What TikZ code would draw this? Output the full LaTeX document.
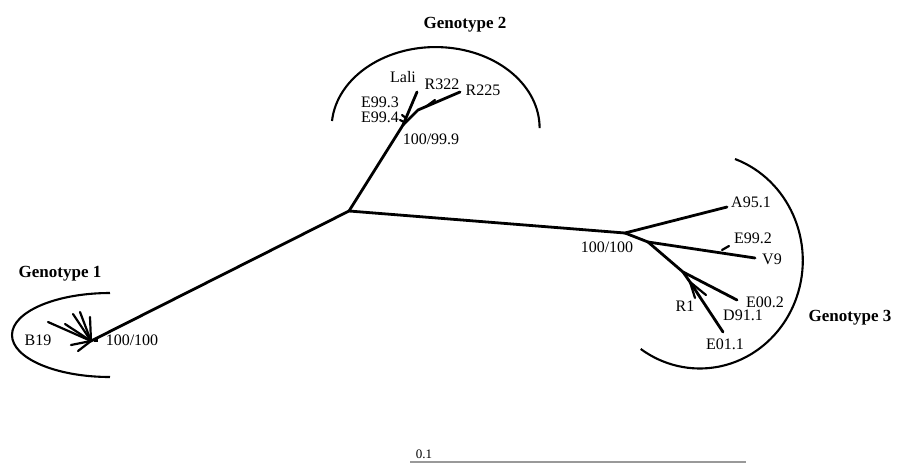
\documentclass[tikz,border=0pt]{standalone}
\usepackage{fontspec}
\setmainfont{Liberation Serif}
\usetikzlibrary{positioning}
\tikzset{
  branch/.style={line width=2.8pt, line cap=round},
  twig/.style={line width=2.2pt, line cap=round},
  clade/.style={line width=2.1pt},
  lab/.style={font=\fontsize{16}{18}\selectfont, inner sep=0pt},
  geno/.style={font=\fontsize{17}{19}\selectfont\bfseries, inner sep=0pt}
}

\begin{document}
\begin{tikzpicture}[x=1pt,y=-1pt]
	\useasboundingbox (0,0) rectangle (899,464);
	\coordinate (c) at (349,211);
	\coordinate (j1) at (91,341);
	\coordinate (j2) at (403,125);
	\coordinate (j3) at (625,233);
	\draw[branch] (c) -- (j1);
	\draw[branch] (c) -- (j2);
	\draw[branch] (c) -- (j3);
	% genotype 1
	\foreach \n/\x/\y in {a/48/322,b/65/324,c/73/314,d/80/312,e/90/317,f/71/345,g/78/351}{
		\coordinate (g1\n) at (\x,\y);
		\draw[twig] (j1) -- (g1\n);
	}
	\node[fill, minimum size=4pt, inner sep=0pt] (sq) at (96,340) {};
	\node[lab] (b19) at (38,340) {B19};
	\node[lab] (bs1) at (132,340) {100/100};
	\node[geno] (gt1) at (60,274) {Genotype 1};
	\coordinate (a1) at (110,293);
	\draw[clade] (a1) arc[start angle=90, end angle=270, x radius=98pt, y radius=42pt];
	% genotype 2
	\coordinate (lali) at (417,92);
	\coordinate (k2) at (418,110);
	\coordinate (r225) at (460,92);
	\coordinate (r322j) at (426,106.6);
	\coordinate (r322) at (435,100);
	\coordinate (e93a) at (406,118);
	\coordinate (e93b) at (402,115);
	\coordinate (e94a) at (404,122);
	\coordinate (e94b) at (400,120);
	\draw[branch] (j2) -- (lali);
	\draw[branch] (j2) -- (k2) -- (r225);
	\draw[twig] (r322j) -- (r322);
	\draw[twig] (e93a) -- (e93b);
	\draw[twig] (e94a) -- (e94b);
	\node[lab] (nlali) at (403,77) {Lali};
	\node[lab] (nr322) at (442,84) {R322};
	\node[lab] (nr225) at (483,90) {R225};
	\node[lab] (ne93) at (380,102) {E99.3};
	\node[lab] (ne94) at (380,117) {E99.4};
	\node[lab] (bs2) at (431,139) {100/99.9};
	\node[geno] (gt2) at (465,25) {Genotype 2};
	\coordinate (a2) at (332,121);
	\draw[clade] (a2) arc[start angle=175, end angle=0, x radius=104pt, y radius=81pt];
	% genotype 3
	\coordinate (a95) at (727,207);
	\coordinate (j3a) at (648,242);
	\coordinate (v9) at (755,258);
	\coordinate (e92a) at (722,250);
	\coordinate (e92b) at (729,246);
	\coordinate (j3b) at (683,272);
	\coordinate (e002) at (737,300);
	\coordinate (r1j) at (690,282);
	\coordinate (e011) at (723,332);
	\coordinate (r1a) at (695,298);
	\coordinate (r1b) at (706,295);
	\draw[branch] (j3) -- (a95);
	\draw[branch] (j3) -- (j3a) -- (v9);
	\draw[branch] (j3a) -- (j3b) -- (e002);
	\draw[branch] (j3b) -- (r1j) -- (e011);
	\draw[twig] (r1j) -- (r1a);
	\draw[twig] (r1j) -- (r1b);
	\draw[twig] (e92a) -- (e92b);
	\node[lab] (na95) at (751,202) {A95.1};
	\node[lab] (ne92) at (753,238) {E99.2};
	\node[lab] (nv9) at (772,259) {V9};
	\node[lab] (ne002) at (765,302) {E00.2};
	\node[lab] (nr1) at (685,306) {R1};
	\node[lab] (nd911) at (743,315) {D91.1};
	\node[lab] (ne011) at (725,344) {E01.1};
	\node[lab] (bs3) at (607,247) {100/100};
	\node[geno] (gt3) at (850,318) {Genotype 3};
	\coordinate (a3) at (735,159);
	\draw[clade] (a3) arc[start angle=70, end angle=-125, x radius=103pt, y radius=108pt];
	% scale
	\coordinate (s0) at (410,462);
	\coordinate (s1) at (746,462);
	\draw[gray!80, line width=2pt] (s0) -- (s1);
	\node[font=\fontsize{13}{15}\selectfont, inner sep=0pt] (sc) at (424,454) {0.1};
\end{tikzpicture}
\end{document}
